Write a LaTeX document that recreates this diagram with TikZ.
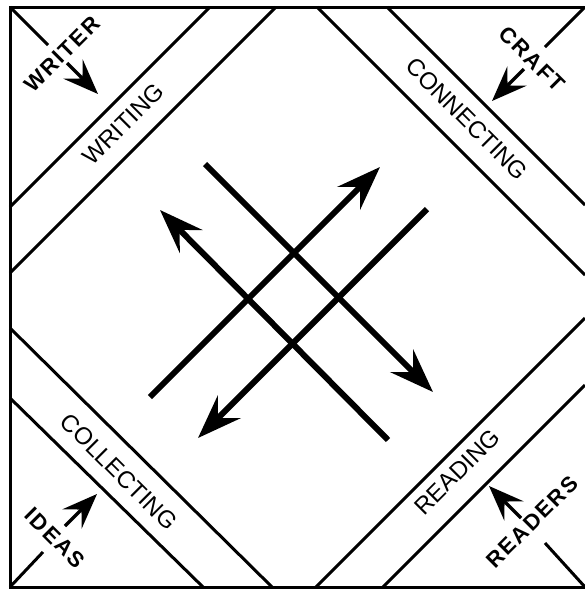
\documentclass[tikz,border=0pt]{standalone}
\usepackage{fontspec}
\setmainfont{Liberation Sans}
\usetikzlibrary{arrows.meta}

\begin{document}
\begin{tikzpicture}[
    x=1pt, y=-1pt,
    edge/.style={line width=3pt},
    bigarrow/.style={line width=6pt, -{Stealth[length=44pt, width=32pt, inset=16pt]}},
    smallarrow/.style={line width=3.2pt, -{Stealth[length=35pt, width=27pt, inset=13pt]}},
    bandlabel/.style={font=\fontsize{24}{28}\selectfont, inner sep=0pt},
    cornerlabel/.style={font=\fontsize{22}{26}\selectfont\bfseries\addfontfeature{LetterSpace=9}, inner sep=0pt}
]
\useasboundingbox (0,0) rectangle (585,590);

% Frame (right side runs off the page)
\draw[edge] (585,7) -- (10,7) -- (10,587) -- (585,587);

% Bands
\draw[edge] (10,207) -- (210,7);
\draw[edge] (10,273) -- (276,7);
\draw[edge] (387,7) -- (585,205);
\draw[edge] (317,7) -- (585,275);
\draw[edge] (10,398) -- (203,587);
\draw[edge] (10,328) -- (272,587);
\draw[edge] (316,587) -- (585,318);
\draw[edge] (383,587) -- (585,385);

\node[bandlabel, rotate=45] (writing) at (123,124) {WRITING};
\node[bandlabel, rotate=-45] (connecting) at (467,119) {CONNECTING};
\node[bandlabel, rotate=-45] (collecting) at (119,472) {COLLECTING};
\node[bandlabel, rotate=45] (reading) at (457,472) {READING};

% Corners
\node[cornerlabel, rotate=45] (writer) at (62,54) {WRITER};
\node[cornerlabel, rotate=-45] (craft) at (532,59) {CRAFT};
\node[cornerlabel, rotate=-45] (ideas) at (55,538) {IDEAS};
\node[cornerlabel, rotate=45] (readers) at (532,522) {READERS};

\coordinate (tl) at (10,7);
\coordinate (tr) at (585,7);
\coordinate (bl) at (10,587);
\coordinate (br) at (585,587);
\draw[edge] (tl) -- (48,45);
\draw[edge] (tr) -- (545,47);
\draw[edge] (bl) -- (43,552);
\draw[edge] (br) -- (545,543);

\coordinate (writerfrom) at (67,63);
\coordinate (writerto) at (98,94);
\coordinate (craftfrom) at (524,69);
\coordinate (craftto) at (492,101);
\coordinate (ideasfrom) at (65,526);
\coordinate (ideasto) at (97,494);
\coordinate (readersfrom) at (521,518);
\coordinate (readersto) at (489,486);
\draw[smallarrow] (writerfrom) -- (writerto);
\draw[smallarrow] (craftfrom) -- (craftto);
\draw[smallarrow] (ideasfrom) -- (ideasto);
\draw[smallarrow] (readersfrom) -- (readersto);

% Centre arrows
\coordinate (a1) at (205,164);
\coordinate (a2) at (433,392);
\coordinate (b1) at (388,440);
\coordinate (b2) at (160,210);
\coordinate (c1) at (150,397);
\coordinate (c2) at (380,167);
\coordinate (d1) at (427,209);
\coordinate (d2) at (198,438);
\draw[bigarrow] (a1) -- (a2);
\draw[bigarrow] (b1) -- (b2);
\draw[bigarrow] (c1) -- (c2);
\draw[bigarrow] (d1) -- (d2);

\end{tikzpicture}
\end{document}
